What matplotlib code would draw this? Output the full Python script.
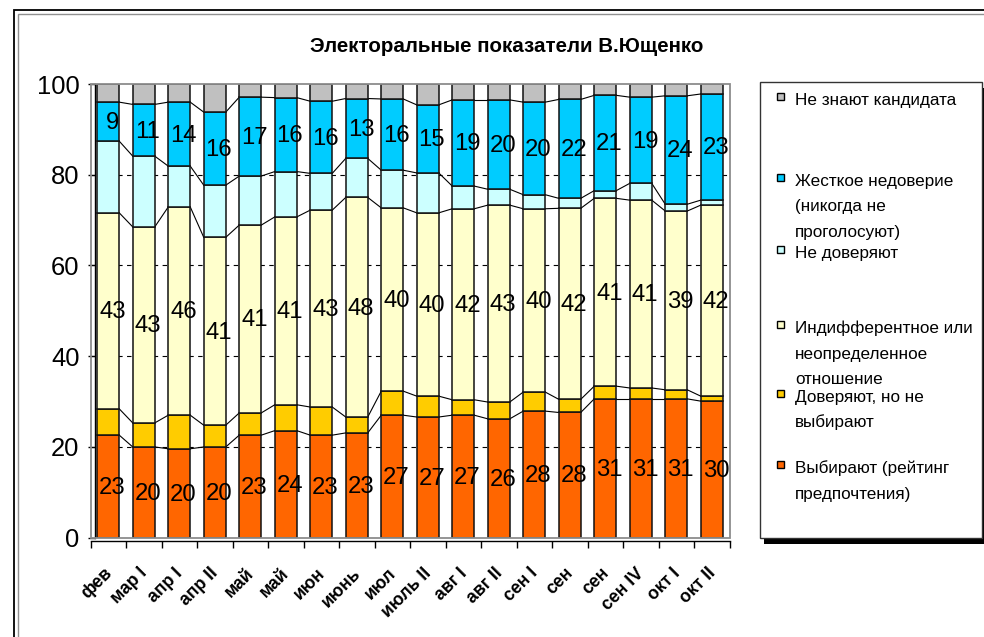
import numpy as np
import matplotlib
matplotlib.use('Agg')
import matplotlib.pyplot as plt
from matplotlib.patches import Rectangle
from matplotlib.transforms import ScaledTranslation
from matplotlib import font_manager

# ---------------- data ----------------
categories = ['фев', 'мар I', 'апр I', 'апр II', 'май', 'май', 'июн', 'июнь', 'июл',
              'июль II', 'авг I', 'авг II', 'сен I', 'сен', 'сен', 'сен IV', 'окт I', 'окт II']

vybirayut = [22.6, 20.0, 19.6, 20.0, 22.6, 23.6, 22.6, 23.1, 27.0, 26.6, 27.0, 26.2, 27.9, 27.6, 30.6, 30.6, 30.6, 30.1]
doveryayut_ne_vybirayut = [5.8, 5.3, 7.4, 4.8, 4.9, 5.7, 6.2, 3.5, 5.3, 4.6, 3.4, 3.7, 4.2, 2.9, 2.8, 2.4, 2.0, 1.1]
indifferent = [43.2, 43.2, 45.9, 41.4, 41.4, 41.4, 43.4, 48.4, 40.4, 40.4, 42.1, 43.4, 40.4, 42.1, 41.4, 41.4, 39.4, 42.1]
ne_doveryayut = [15.8, 15.6, 9.0, 11.5, 10.8, 10.0, 8.1, 8.6, 8.3, 8.8, 5.0, 3.5, 3.1, 2.2, 1.7, 3.7, 1.5, 1.1]
zhestkoe = [8.6, 11.4, 14.1, 16.1, 17.4, 16.3, 15.9, 13.2, 15.7, 15.0, 19.0, 19.7, 20.4, 21.8, 21.0, 19.0, 23.9, 23.4]
ne_znayut = [4.0, 4.5, 4.0, 6.2, 2.9, 3.0, 3.8, 3.2, 3.3, 4.6, 3.5, 3.5, 4.0, 3.4, 2.5, 2.9, 2.6, 2.2]

series_names = ['Выбирают (рейтинг\nпредпочтения)',
                'Доверяют, но не\nвыбирают',
                'Индифферентное или\nнеопределенное\nотношение',
                'Не доверяют',
                'Жесткое недоверие\n(никогда не\nпроголосуют)',
                'Не знают кандидата']
series_colors = ['#FF6600', '#FFCC00', '#FFFFCC', '#CCFFFF', '#00CCFF', '#C0C0C0']
series_labeled = [True, False, True, False, True, False]
yticks = [0, 20, 40, 60, 80, 100]
title = 'Электоральные показатели В.Ющенко'

series = [vybirayut, doveryayut_ne_vybirayut, indifferent, ne_doveryayut, zhestkoe, ne_znayut]

# ---------------- fonts ----------------
names = {f.name for f in font_manager.fontManager.ttflist}
if 'Liberation Sans Narrow' in names:
    fam = ['Liberation Sans Narrow', 'DejaVu Sans']
    k = 1.0
else:
    fam = ['Liberation Sans', 'DejaVu Sans']
    k = 0.82
plt.rcParams['font.family'] = fam

W, H = 984, 637
fig = plt.figure(figsize=(W / 100, H / 100), dpi=100)
fx = lambda px: px / W
fy = lambda py: 1 - py / H

# outer chart frame (double line)
fig.add_artist(Rectangle((fx(14), fy(700)), fx(1100), 690 / H, transform=fig.transFigure,
                         fill=False, edgecolor='black', lw=1.3))
fig.add_artist(Rectangle((fx(17.5), fy(700)), fx(1100), 686.5 / H, transform=fig.transFigure,
                         fill=False, edgecolor='#909090', lw=1.0))

ax = fig.add_axes([fx(90.5), fy(537.7), (729.5 - 90.5) / W, (537.7 - 84) / H])

# axis spines first (set_position resets ticks)
for s in ['top', 'right']:
    ax.spines[s].set_visible(False)
ax.spines['left'].set_position(('outward', -3))
ax.spines['bottom'].set_position(('outward', 2.5))
for s in ['left', 'bottom']:
    ax.spines[s].set_linewidth(1.0)
    ax.spines[s].set_color('black')

x = np.arange(len(categories))
bw = 0.62

bottoms = np.zeros(len(categories))
tops_list = []
for vals, col, lab in zip(series, series_colors, series_labeled):
    vals = np.asarray(vals, dtype=float)
    ax.bar(x, vals, bw, bottom=bottoms, color=col, edgecolor='#111111', lw=1.1, zorder=3)
    if lab:
        for xi, v, b in zip(x, vals, bottoms):
            ax.annotate(f'{v:.0f}', (xi, b + v / 2), xytext=(3, -1), textcoords='offset points',
                        ha='center', va='center', fontsize=21 * k, color='black', zorder=5)
    bottoms = bottoms + vals
    tops_list.append(bottoms.copy())

# series lines between bars
for tops in tops_list[:-1]:
    for i in range(len(categories) - 1):
        ax.plot([x[i] + bw / 2, x[i + 1] - bw / 2], [tops[i], tops[i + 1]],
                color='black', lw=0.8, zorder=2)

# gridlines
for t in yticks[1:-1]:
    ax.axhline(t, color='black', lw=0.8, ls=(0, (4, 4)), zorder=1)

ax.set_xlim(-0.5, len(categories) - 0.5)
ax.set_ylim(0, 100)
ax.set_yticks(yticks, [str(t) for t in yticks])
ax.tick_params(axis='y', length=5, width=1, pad=6, direction='out', labelsize=22.5 * k)

ax.set_xticks(np.arange(-0.5, len(categories), 1), [''] * (len(categories) + 1))
ax.set_xticks(x, categories, minor=True)
ax.tick_params(axis='x', which='major', length=5, width=1, direction='out')
ax.tick_params(axis='x', which='minor', length=0, pad=17, labelsize=15.5 * k)
shift = ScaledTranslation(-5 / 100, 0, fig.dpi_scale_trans)
for t in ax.get_xticklabels(minor=True):
    t.set_rotation(45)
    t.set_ha('right')
    t.set_va('top')
    t.set_rotation_mode('anchor')
    t.set_fontweight('bold')
    t.set_transform(t.get_transform() + shift)

ax.add_patch(Rectangle((0, 0), 1, 1, transform=ax.transAxes, fill=False,
                       edgecolor='#8c8c8c', lw=1.3, clip_on=False, zorder=4))
ax.patch.set_alpha(0)

# title
fig.text(fx(507), fy(47), title, ha='center', va='center', fontsize=18 * k, fontweight='bold')

# legend (manual, Excel-like)
lx0, ly0, lx1, ly1 = 760, 82, 982, 538
fig.add_artist(Rectangle((fx(lx0 + 4), fy(ly1 + 6)), (lx1 - lx0) / W, (ly1 - ly0) / H,
                         transform=fig.transFigure, facecolor='black', edgecolor='black', lw=0))
fig.add_artist(Rectangle((fx(lx0), fy(ly1)), (lx1 - lx0) / W, (ly1 - ly0) / H,
                         transform=fig.transFigure, facecolor='white', edgecolor='#333333', lw=1.0))
entry_baselines = [105, 186, 258, 333, 402, 473]
line_step = 25.5
for name, col, yb in zip(series_names[::-1], series_colors[::-1], entry_baselines):
    fig.add_artist(Rectangle((fx(777), fy(yb - 5.5)), 7 / W, 7 / H, transform=fig.transFigure,
                             facecolor=col, edgecolor='black', lw=1.0))
    for j, line in enumerate(name.split('\n')):
        fig.text(fx(795), fy(yb + j * line_step), line, ha='left', va='baseline',
                 fontsize=15 * k, color='black')

fig.savefig('out.png', dpi=100)
